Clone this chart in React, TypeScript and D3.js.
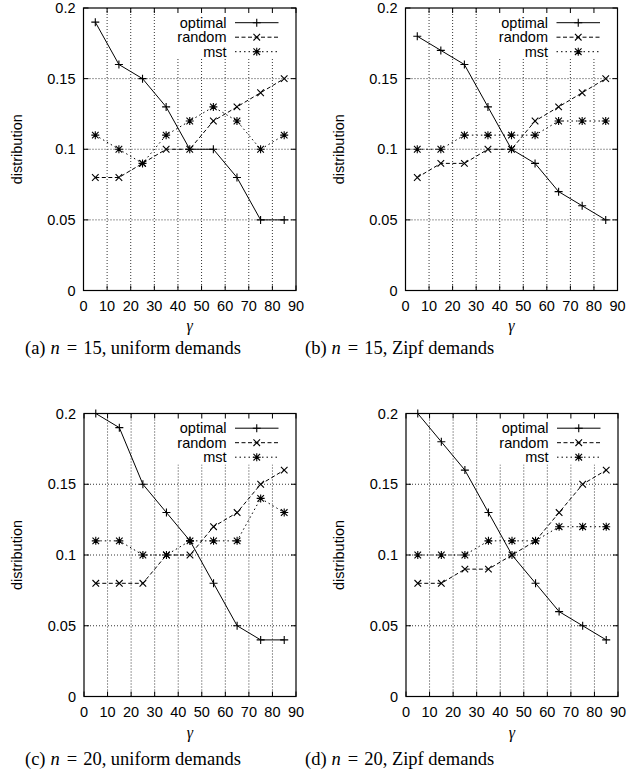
import React from 'react';
import * as d3 from 'd3';

const gammas = [5, 15, 25, 35, 45, 55, 65, 75, 85];
const xTicks = [0, 10, 20, 30, 40, 50, 60, 70, 80, 90];
const yTicks = [0, 0.05, 0.1, 0.15, 0.2];
const yTickLabels = ['0', '0.05', '0.1', '0.15', '0.2'];
const seriesNames = ['optimal', 'random', 'mst'];

const aOptimal = [0.19, 0.16, 0.15, 0.13, 0.10, 0.10, 0.08, 0.05, 0.05];
const aRandom = [0.08, 0.08, 0.09, 0.10, 0.10, 0.12, 0.13, 0.14, 0.15];
const aMst = [0.11, 0.10, 0.09, 0.11, 0.12, 0.13, 0.12, 0.10, 0.11];

const bOptimal = [0.18, 0.17, 0.16, 0.13, 0.10, 0.09, 0.07, 0.06, 0.05];
const bRandom = [0.08, 0.09, 0.09, 0.10, 0.10, 0.12, 0.13, 0.14, 0.15];
const bMst = [0.10, 0.10, 0.11, 0.11, 0.11, 0.11, 0.12, 0.12, 0.12];

const cOptimal = [0.20, 0.19, 0.15, 0.13, 0.11, 0.08, 0.05, 0.04, 0.04];
const cRandom = [0.08, 0.08, 0.08, 0.10, 0.10, 0.12, 0.13, 0.15, 0.16];
const cMst = [0.11, 0.11, 0.10, 0.10, 0.11, 0.11, 0.11, 0.14, 0.13];

const dOptimal = [0.20, 0.18, 0.16, 0.13, 0.10, 0.08, 0.06, 0.05, 0.04];
const dRandom = [0.08, 0.08, 0.09, 0.09, 0.10, 0.11, 0.13, 0.15, 0.16];
const dMst = [0.10, 0.10, 0.10, 0.11, 0.11, 0.11, 0.12, 0.12, 0.12];

const captionTags = ['(a)', '(b)', '(c)', '(d)'];
const captionN = ['15', '15', '20', '20'];
const captionDemands = ['uniform demands', 'Zipf demands', 'uniform demands', 'Zipf demands'];

const panels = [
  { box: [83.5, 296, 8, 290.5], capX: 25, capY: 354, gY: 330.5, series: [aOptimal, aRandom, aMst] },
  { box: [405.5, 617.5, 8, 290.5], capX: 305, capY: 354, gY: 330.5, series: [bOptimal, bRandom, bMst] },
  { box: [84, 296, 413.5, 696.5], capX: 25, capY: 765, gY: 738, series: [cOptimal, cRandom, cMst] },
  { box: [406, 618, 413.5, 696.5], capX: 305, capY: 765, gY: 738, series: [dOptimal, dRandom, dMst] },
];

const dashes = [undefined, '4,2.5', '1.5,3'];
const SANS = '"Liberation Sans", Arial, Helvetica, sans-serif';
const SERIF = '"Liberation Serif", "Times New Roman", serif';
const FS = 14.5;

function marker(kind: number, x: number, y: number, key: string) {
  const p = 4;
  const q = 3.3;
  let d = '';
  if (kind === 0) d = `M${x - p},${y}H${x + p}M${x},${y - p}V${y + p}`;
  else if (kind === 1) d = `M${x - q},${y - q}L${x + q},${y + q}M${x - q},${y + q}L${x + q},${y - q}`;
  else d = `M${x - p},${y}H${x + p}M${x},${y - p}V${y + p}M${x - q},${y - q}L${x + q},${y + q}M${x - q},${y + q}L${x + q},${y - q}`;
  return <path key={key} d={d} stroke="#000" strokeWidth={1.1} fill="none" />;
}

function Panel({ idx }: { idx: number }) {
  const pnl = panels[idx];
  const [x0, x1, y0, y1] = pnl.box;
  const xs = d3.scaleLinear().domain([0, 90]).range([x0, x1]);
  const ys = d3.scaleLinear().domain([0, 0.2]).range([y1, y0]);
  const line = d3.line<number>().x((_, i) => xs(gammas[i])).y((v) => ys(v));
  const tl = 5;
  const legendRows = [y0 + 14.7, y0 + 29.2, y0 + 43.7];
  const legTextX = x1 - 69.5;
  const legL0 = x1 - 61;
  const legL1 = x1 - 17.5;
  const legM = (legL0 + legL1) / 2;
  return (
    <g>
      {xTicks.slice(1, -1).map((t) => (
        <line key={'gx' + t} x1={xs(t)} x2={xs(t)} y1={y0} y2={y1} stroke="#000" strokeWidth={0.8} strokeDasharray="1,2" />
      ))}
      {yTicks.slice(1, -1).map((t) => (
        <line key={'gy' + t} x1={x0} x2={x1} y1={ys(t)} y2={ys(t)} stroke="#000" strokeWidth={0.8} strokeDasharray="1,2" />
      ))}
      <rect x={x1 - 126} y={y0} width={126} height={51} fill="#fff" />
      {xTicks.map((t) => (
        <g key={'tx' + t}>
          <line x1={xs(t)} x2={xs(t)} y1={y1} y2={y1 - tl} stroke="#000" strokeWidth={1} />
          <line x1={xs(t)} x2={xs(t)} y1={y0} y2={y0 + tl} stroke="#000" strokeWidth={1} />
          <text x={xs(t)} y={y1 + 20} textAnchor="middle" fontFamily={SANS} fontSize={FS}>{t}</text>
        </g>
      ))}
      {yTicks.map((t, i) => (
        <g key={'ty' + t}>
          <line x1={x0} x2={x0 + tl} y1={ys(t)} y2={ys(t)} stroke="#000" strokeWidth={1} />
          <line x1={x1} x2={x1 - tl} y1={ys(t)} y2={ys(t)} stroke="#000" strokeWidth={1} />
          <text x={x0 - 8} y={ys(t) + 5} textAnchor="end" fontFamily={SANS} fontSize={FS}>{yTickLabels[i]}</text>
        </g>
      ))}
      <rect x={x0} y={y0} width={x1 - x0} height={y1 - y0} fill="none" stroke="#000" strokeWidth={1.2} />
      {pnl.series.map((vals, si) => (
        <g key={'s' + si}>
          <path d={line(vals) || ''} fill="none" stroke="#000" strokeWidth={1} strokeDasharray={dashes[si]} />
          {vals.map((v, i) => marker(si, xs(gammas[i]), ys(v), `m${si}-${i}`))}
        </g>
      ))}
      {seriesNames.map((name, si) => (
        <g key={'l' + si}>
          <text x={legTextX} y={legendRows[si] + 5} textAnchor="end" fontFamily={SANS} fontSize={FS}>{name}</text>
          <line x1={legL0} x2={legL1} y1={legendRows[si]} y2={legendRows[si]} stroke="#000" strokeWidth={1} strokeDasharray={dashes[si]} />
          {marker(si, legM, legendRows[si], 'lm' + si)}
        </g>
      ))}
      <text transform={`translate(${x0 - 62},${(y0 + y1) / 2}) rotate(-90)`} textAnchor="middle" fontFamily={SANS} fontSize={FS}>distribution</text>
      <text x={(x0 + x1) / 2} y={pnl.gY} textAnchor="middle" fontFamily={SERIF} fontStyle="italic" fontSize={16}>γ</text>
      <text x={pnl.capX} y={pnl.capY} textAnchor="start" fontFamily={SERIF} fontSize={18.5}>
        {captionTags[idx]}
        <tspan dx={5} fontStyle="italic">n</tspan>
        <tspan dx={7}>=</tspan>
        <tspan dx={6}>{captionN[idx] + ','}</tspan>
        <tspan dx={4.5}>{captionDemands[idx]}</tspan>
      </text>
    </g>
  );
}

export default function App() {
  return (
    <svg width={628} height={777} style={{ position: 'absolute', left: 0, top: 0, background: '#fff' }}>
      <rect x={0} y={0} width={628} height={777} fill="#fff" />
      {panels.map((_, i) => (
        <Panel key={i} idx={i} />
      ))}
    </svg>
  );
}
